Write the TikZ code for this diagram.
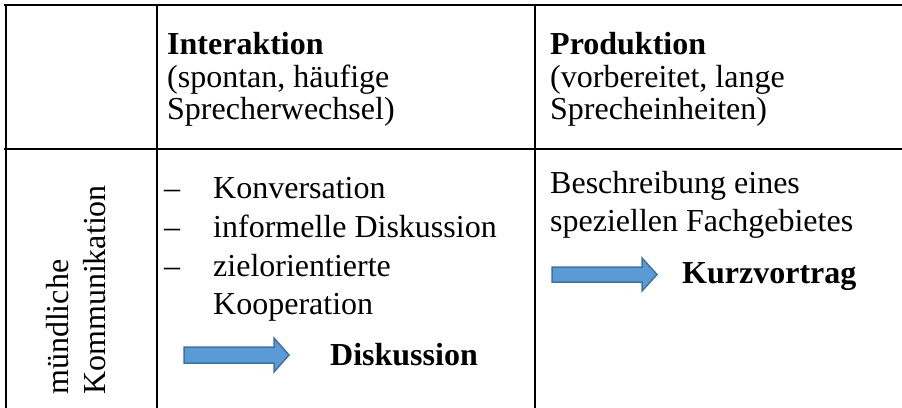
\documentclass[tikz,border=0pt]{standalone}
\usepackage{fontspec}
\setmainfont{Liberation Serif}
\definecolor{arrowfill}{HTML}{5B9BD5}
\definecolor{arrowline}{HTML}{41719C}
\tikzset{
  grid/.style={line width=2pt, black},
  txt/.style={anchor=base west, inner sep=0pt, font=\fontsize{32pt}{38pt}\selectfont},
  btxt/.style={txt, font=\fontsize{32pt}{38pt}\selectfont\bfseries},
  vtxt/.style={txt, rotate=90},
  blockarrow/.style={fill=arrowfill, draw=arrowline, line width=1.5pt, line join=miter}
}
\begin{document}
\begin{tikzpicture}[x=1pt,y=-1pt]
\useasboundingbox (0,0) rectangle (902,407);
% table rules
\draw[grid] (4,5) -- (905,5);
\draw[grid] (4,149) -- (905,149);
\draw[grid] (5.5,4) -- (5.5,410);
\draw[grid] (157,4) -- (157,410);
\draw[grid] (535,4) -- (535,410);
% header
\node[btxt] (h1a) at (167,54) {Interaktion};
\node[txt]  (h1b) at (167,87) {(spontan, häufige};
\node[txt]  (h1c) at (167,119) {Sprecherwechsel)};
\node[btxt] (h2a) at (550,54) {Produktion};
\node[txt]  (h2b) at (550,87) {(vorbereitet, lange};
\node[txt]  (h2c) at (550,119) {Sprecheinheiten)};
% row label
\node[vtxt] (r1a) at (68,395) {mündliche};
\node[vtxt] (r1b) at (105,395) {Kommunikation};
% interaction cell
\node[txt] (d1) at (164,198) {–};
\node[txt] (i1) at (213,198) {Konversation};
\node[txt] (d2) at (164,237) {–};
\node[txt] (i2) at (213,237) {informelle Diskussion};
\node[txt] (d3) at (164,276) {–};
\node[txt] (i3) at (213,276) {zielorientierte};
\node[txt] (i4) at (213,314) {Kooperation};
\draw[blockarrow] (184,347) -- (274,347) -- (274,338) -- (289,355) -- (274,372) -- (274,363) -- (184,363) -- cycle;
\node[btxt] (r1) at (330,365) {Diskussion};
% production cell
\node[txt] (p1) at (550,193) {Beschreibung eines};
\node[txt] (p2) at (550,231) {speziellen Fachgebietes};
\draw[blockarrow] (552,267) -- (642,267) -- (642,258) -- (657,274.5) -- (642,291) -- (642,282) -- (552,282) -- cycle;
\node[btxt] (r2) at (682,283) {Kurzvortrag};
\end{tikzpicture}
\end{document}
